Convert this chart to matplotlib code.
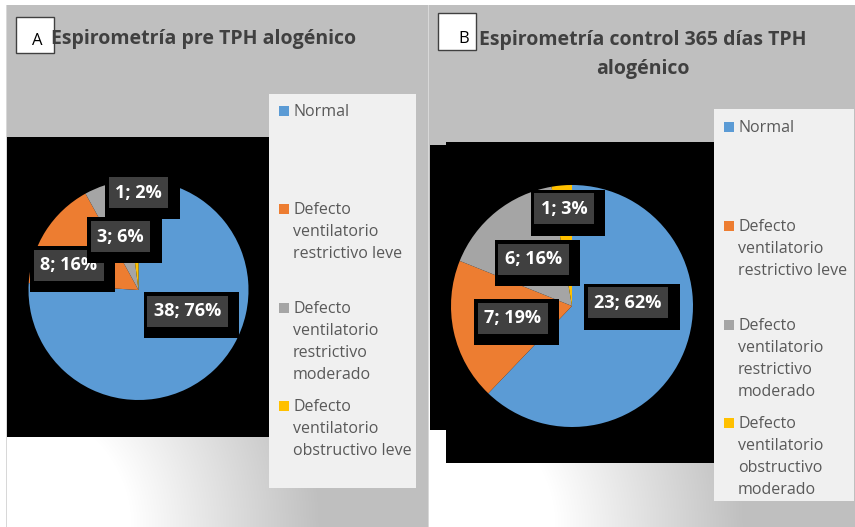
import numpy as np
import matplotlib
matplotlib.use('Agg')
import matplotlib.pyplot as plt
import matplotlib.patheffects as pe
from matplotlib.patches import Rectangle

plt.rcParams['font.family'] = ['Open Sans', 'DejaVu Sans']

# datos
cat_a = ["Normal", "Defecto\nventilatorio\nrestrictivo leve",
         "Defecto\nventilatorio\nrestrictivo\nmoderado",
         "Defecto\nventilatorio\nobstructivo leve"]
cat_b = ["Normal", "Defecto\nventilatorio\nrestrictivo leve",
         "Defecto\nventilatorio\nrestrictivo\nmoderado",
         "Defecto\nventilatorio\nobstructivo\nmoderado"]
val_a = [38, 8, 3, 1]
val_b = [23, 7, 6, 1]
title_a = "Espirometría pre TPH alogénico"
title_b = "Espirometría control 365 días TPH\nalogénico"
colores = ['#5b9bd5', '#ed7d31', '#a5a5a5', '#ffc000']

# posiciones de etiquetas (en radios del pastel)
pos_a = [(0.445, -0.195), (-0.636, 0.223), (-0.164, 0.486), (0.0, 0.886)]
pos_b = [(0.463, 0.025), (-0.488, -0.103), (-0.318, 0.388), (-0.066, 0.802)]

W, H = 855, 527
fig = plt.figure(figsize=(W / 100, H / 100), dpi=100)

# fondo con degradado
img = np.ones((H, W, 3))
yy, xx = np.mgrid[0:H, 0:W]
gris = 191 / 255
for x0, x1, cx in [(6, 428, 6), (429, 855, 429)]:
    d = np.hypot(xx - cx, yy - 527)
    t = np.clip((d - 125) / 190, 0, 1)
    v = 1 - t * (1 - gris)
    m = (xx >= x0) & (xx < x1) & (yy >= 5)
    img[m] = v[m][:, None]
img[5:, 428] = 0.85
img[5:, 6] = 0.85

bg = fig.add_axes([0, 0, 1, 1])
bg.imshow(img, extent=(0, W, H, 0), interpolation='nearest', aspect='auto')
bg.set_xlim(0, W)
bg.set_ylim(H, 0)
bg.axis('off')

# areas negras
bg.add_patch(Rectangle((7, 137), 300, 300, fc='black', ec='none', zorder=2))
bg.add_patch(Rectangle((446, 142), 300, 321, fc='black', ec='none', zorder=2))
bg.add_patch(Rectangle((430, 145), 16, 285, fc='black', ec='none', zorder=2))

# leyendas
def leyenda(x0, y0, w, h, sx, tx, bases, cats):
    bg.add_patch(Rectangle((x0, y0), w, h, fc='#f0f0f0', ec='none', zorder=3))
    for base, cat, col in zip(bases, cats, colores):
        bg.add_patch(Rectangle((sx, base - 10), 10, 10, fc=col, ec='none', zorder=4))
        for k, linea in enumerate(cat.split("\n")):
            bg.text(tx, base + k * 22, linea, fontsize=11.5, color='#595959',
                    va='baseline', ha='left', zorder=5)

leyenda(269, 94, 147, 394, 279, 293, [116, 214, 313, 411], cat_a)
leyenda(714, 109, 140, 392, 724, 738, [132, 231, 330, 428], cat_b)

# cajas de letra
bg.add_patch(Rectangle((16, 17), 38, 36, fc='white', ec='#404040', lw=1, zorder=4))
bg.text(37.5, 45, "A", fontsize=12, color='black', ha='center', va='baseline', zorder=5)
bg.add_patch(Rectangle((438, 13), 38, 37, fc='white', ec='#404040', lw=1, zorder=4))
bg.text(464, 43, "B", fontsize=12, color='black', ha='center', va='baseline', zorder=5)

# titulos
bg.text(204, 44, title_a, fontsize=14, fontweight='bold', color='#404040',
        ha='center', va='baseline', zorder=6)
for k, linea in enumerate(title_b.split("\n")):
    bg.text(643, 45 + k * 29, linea, fontsize=14, fontweight='bold', color='#404040',
            ha='center', va='baseline', zorder=6)

# pasteles
def pastel(cx, cy, r, vals, pos):
    ax = fig.add_axes([(cx - r) / W, (H - cy - r) / H, 2 * r / W, 2 * r / H])
    ax.pie(vals, colors=colores, startangle=90, counterclock=False,
           wedgeprops=dict(linewidth=0))
    ax.set_xlim(-1, 1)
    ax.set_ylim(-1, 1)
    ax.axis('off')
    tot = sum(vals)
    for i, (n, (lx, ly)) in enumerate(zip(vals, pos)):
        s = f"{n}; {round(100 * n / tot)}%"
        t = ax.text(lx, ly, s, ha='center', va='center', fontsize=13, fontweight='bold',
                    color='white', clip_on=False, zorder=11 + i,
                    bbox=dict(boxstyle='square,pad=0.36', fc='#404040', ec='none'))
        # sombra negra detras de la caja
        t.get_bbox_patch().set_path_effects([
            pe.PathPatchEffect(offset=(2.5, -2.2), facecolor='black',
                               edgecolor='black', linewidth=10.8),
            pe.Normal()])

pastel(138.5, 290, 110, val_a, pos_a)
pastel(572, 306, 121, val_b, pos_b)

fig.savefig('out.png', dpi=100)
